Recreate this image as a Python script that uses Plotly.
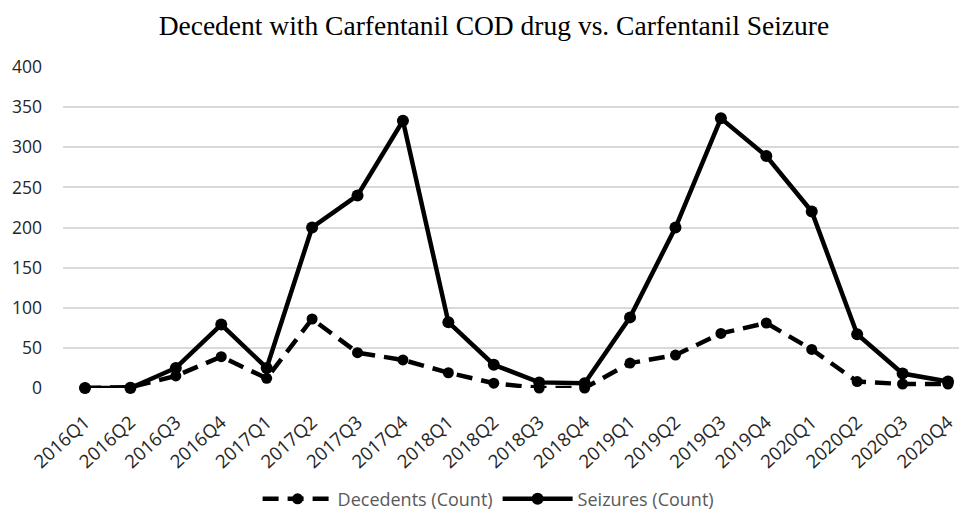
import plotly.graph_objects as go

quarters = ["2016Q1", "2016Q2", "2016Q3", "2016Q4",
            "2017Q1", "2017Q2", "2017Q3", "2017Q4",
            "2018Q1", "2018Q2", "2018Q3", "2018Q4",
            "2019Q1", "2019Q2", "2019Q3", "2019Q4",
            "2020Q1", "2020Q2", "2020Q3", "2020Q4"]

decedents = [0, 1, 15, 39, 12, 86, 44, 35, 19, 6, 0, 0, 31, 41, 68, 81, 48, 8, 5, 5]
seizures = [0, 0, 25, 79, 25, 200, 240, 333, 82, 29, 7, 6, 88, 200, 336, 289, 220, 67, 18, 8]

y_ticks = [0, 50, 100, 150, 200, 250, 300, 350, 400]

idx = list(range(len(quarters)))

fig = go.Figure()
fig.add_trace(go.Scatter(
    x=idx, y=decedents, name="Decedents (Count)", mode="lines+markers",
    line=dict(color="black", width=4.5, dash="16px,9px"),
    marker=dict(color="black", size=11, symbol="circle"),
    cliponaxis=False,
))
fig.add_trace(go.Scatter(
    x=idx, y=seizures, name="Seizures (Count)", mode="lines+markers",
    line=dict(color="black", width=4.5),
    marker=dict(color="black", size=12, symbol="circle"),
    cliponaxis=False,
))

fig.update_layout(
    width=959, height=513,
    margin=dict(l=63, r=0, t=67, b=125, autoexpand=False),
    paper_bgcolor="white", plot_bgcolor="white",
    title=dict(text="Decedent with Carfentanil COD drug vs. Carfentanil Seizure",
               x=0.515, xanchor="center", y=0.951, yanchor="middle",
               font=dict(family="Liberation Serif", size=27.5, color="black")),
    font=dict(family="Open Sans", size=16, color="#262626"),
    xaxis=dict(range=[-0.484, 19.242], tickmode="array", tickvals=idx, ticktext=quarters,
               tickangle=-42, showgrid=False, zeroline=False, showline=False,
               ticklabelstandoff=19,
               automargin=False, tickfont=dict(size=18.5, color="#262626")),
    yaxis=dict(range=[0, 400], tickmode="array", tickvals=y_ticks,
               showgrid=True, gridcolor="#d9d9d9", gridwidth=1.5,
               zeroline=False, showline=False, ticks="", ticklabelstandoff=20,
               automargin=False, tickfont=dict(size=17.5, color="#262626")),
    legend=dict(orientation="h", x=0.475, xanchor="center",
                yref="container", y=0.027, yanchor="middle",
                font=dict(size=18, color="#595959"), itemwidth=70),
    showlegend=True,
)

fig.write_html("out.html")
